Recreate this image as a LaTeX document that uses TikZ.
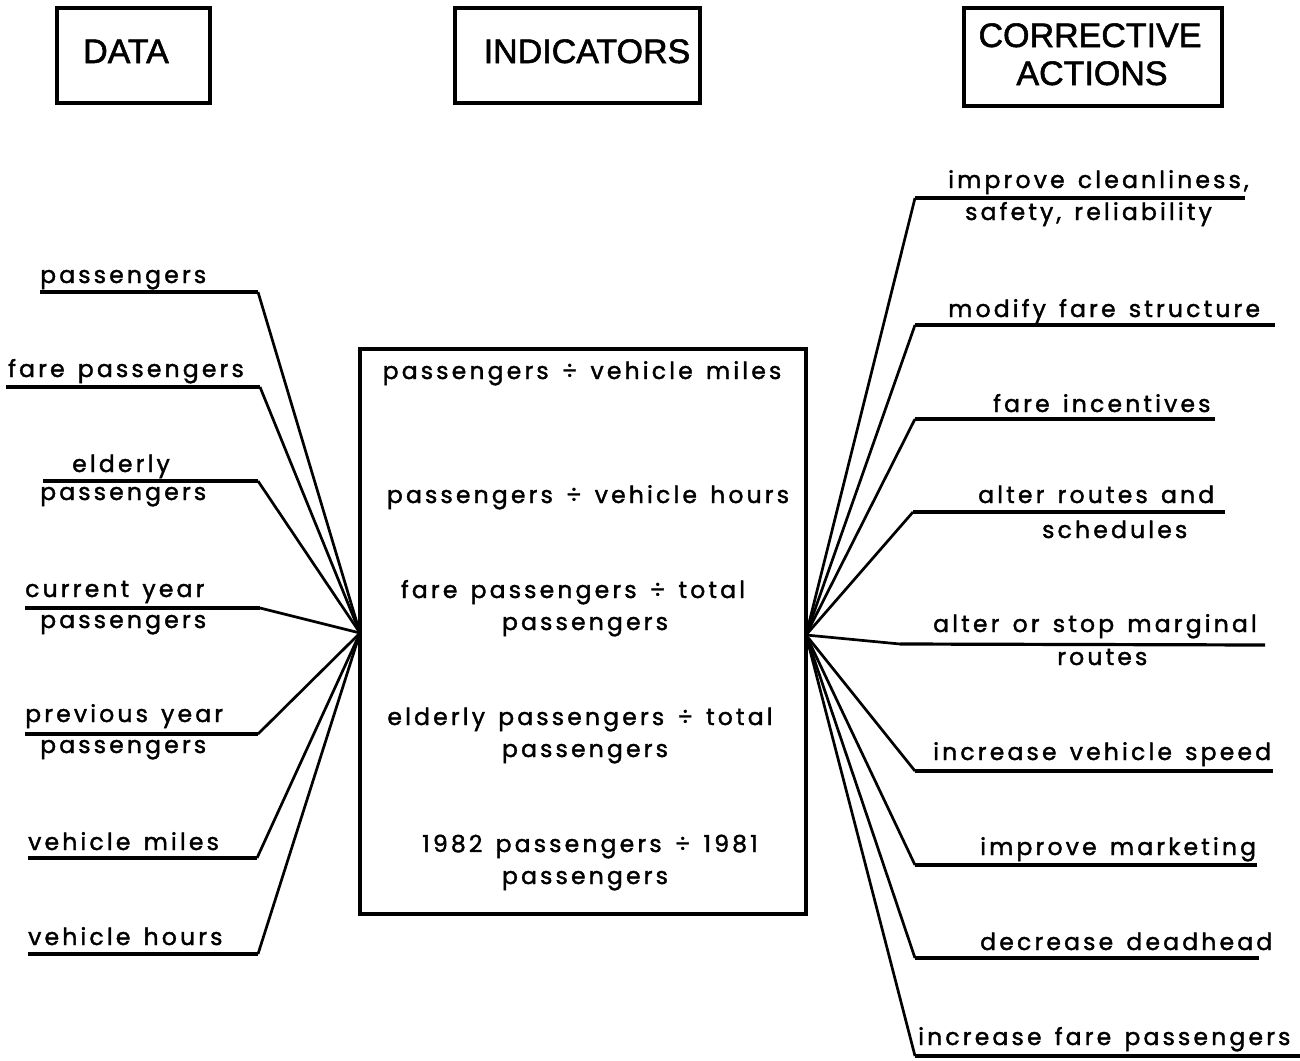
\documentclass[tikz,border=0pt]{standalone}
\usepackage{fontspec}
\setmainfont{Poppins}[LetterSpace=13.5, WordSpace=1.4, FakeBold=1.6]
\newfontfamily\headfont{Liberation Sans}[FakeBold=1.6]
\newcommand{\labfont}{\fontsize{23.5}{26}\selectfont}
\newcommand{\hdfont}{\headfont\fontsize{34}{38}\selectfont}
\begin{document}
\begin{tikzpicture}[x=1pt,y=-1pt,
  lab/.style={font=\labfont, inner sep=0pt, anchor=base west},
  labc/.style={font=\labfont, inner sep=0pt, anchor=base},
  hbox/.style={draw, line width=3.2pt, inner sep=0pt},
  hd/.style={font=\hdfont, inner sep=0pt, anchor=base},
  ul/.style={line width=3.2pt, line join=miter},
  conn/.style={line width=2.7pt}]
\useasboundingbox (0,0) rectangle (1300,1060);

% header boxes
\node[hbox, minimum width=153pt, minimum height=95pt] (hdata) at (133.5,55.5) {};
\node[hd] (tdata) at (126,63) {DATA};
\node[hbox, minimum width=245pt, minimum height=95pt] (hind) at (577.5,55.5) {};
\node[hd] (tind) at (587,63) {INDICATORS};
\node[hbox, minimum width=258pt, minimum height=98pt] (hact) at (1093,57) {};
\node[hd] (tact1) at (1090,47) {CORRECTIVE};
\node[hd] (tact2) at (1092,85) {ACTIONS};

% central box
\node[hbox, minimum width=446pt, minimum height=565pt] (ind) at (583,631.5) {};
\node[labc] (i1) at (582,379) {passengers ÷ vehicle miles};
\node[labc] (i2) at (588,503) {passengers ÷ vehicle hours};
\node[labc] (i3a) at (573,598) {fare passengers ÷ total};
\node[labc] (i3b) at (585,630) {passengers};
\node[labc] (i4a) at (580,725) {elderly passengers ÷ total};
\node[labc] (i4b) at (585,757) {passengers};
\node[labc] (i5a) at (590,852) {1982 passengers ÷ 1981};
\node[labc] (i5b) at (585,884) {passengers};

\coordinate (lhub) at (360,633);
\coordinate (rhub) at (806,635);

% data (left)
\node[lab] (d1) at (40,283) {passengers};
\coordinate (d1a) at (40,292); \coordinate (d1b) at (258,292);
\node[lab] (d2) at (8,377) {fare passengers};
\coordinate (d2a) at (6,387); \coordinate (d2b) at (260,387);
\node[lab] (d3) at (72,472) {elderly};
\node[lab] (d3x) at (40,500) {passengers};
\coordinate (d3a) at (43,481); \coordinate (d3b) at (258,481);
\node[lab] (d4) at (25,597) {current year};
\node[lab] (d4x) at (40,628) {passengers};
\coordinate (d4a) at (25,608); \coordinate (d4b) at (260,608);
\node[lab] (d5) at (25,722) {previous year};
\node[lab] (d5x) at (40,753) {passengers};
\coordinate (d5a) at (25,734); \coordinate (d5b) at (258,734);
\node[lab] (d6) at (28,850) {vehicle miles};
\coordinate (d6a) at (28,858); \coordinate (d6b) at (257,858);
\node[lab] (d7) at (28,945) {vehicle hours};
\coordinate (d7a) at (28,954); \coordinate (d7b) at (258,954);
\foreach \k in {1,...,7}{
  \draw[ul] (d\k a) -- (d\k b);
  \draw[conn] (d\k b) -- (lhub);
}

% actions (right)
\node[lab] (a1) at (948,188) {improve cleanliness,};
\node[lab] (a1x) at (965,220) {safety, reliability};
\coordinate (a1a) at (915,198); \coordinate (a1b) at (1245,198);
\node[lab] (a2) at (948,317) {modify fare structure};
\coordinate (a2a) at (915,325); \coordinate (a2b) at (1275,325);
\node[lab] (a3) at (993,412) {fare incentives};
\coordinate (a3a) at (915,419); \coordinate (a3b) at (1215,419);
\node[lab] (a4) at (978,503) {alter routes and};
\node[lab] (a4x) at (1042,538) {schedules};
\coordinate (a4a) at (913,512); \coordinate (a4b) at (1225,512);
\node[lab] (a5) at (933,632) {alter or stop marginal};
\node[lab] (a5x) at (1057,665) {routes};
\coordinate (a5a) at (900,644); \coordinate (a5b) at (1265,645);
\node[lab] (a6) at (933,760) {increase vehicle speed};
\coordinate (a6a) at (915,771); \coordinate (a6b) at (1273,771);
\node[lab] (a7) at (980,855) {improve marketing};
\coordinate (a7a) at (915,865); \coordinate (a7b) at (1257,865);
\node[lab] (a8) at (980,950) {decrease deadhead};
\coordinate (a8a) at (915,958); \coordinate (a8b) at (1259,958);
\node[lab] (a9) at (918,1045) {increase fare passengers};
\coordinate (a9a) at (915,1056); \coordinate (a9b) at (1300,1056);
\foreach \k in {1,...,9}{
  \draw[ul] (a\k a) -- (a\k b);
  \draw[conn] (rhub) -- (a\k a);
}
\end{tikzpicture}
\end{document}
